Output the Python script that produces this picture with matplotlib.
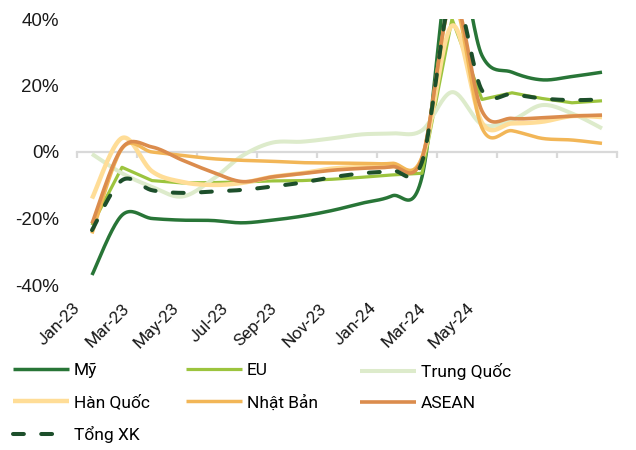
import numpy as np
import matplotlib
matplotlib.use("Agg")
import matplotlib.pyplot as plt

plt.rcParams['font.family'] = ['Roboto', 'DejaVu Sans']

months = ["Jan-23", "Feb-23", "Mar-23", "Apr-23", "May-23", "Jun-23",
          "Jul-23", "Aug-23", "Sep-23", "Oct-23", "Nov-23", "Dec-23",
          "Jan-24", "Feb-24", "Mar-24", "Apr-24", "May-24", "Jun-24"]

my = [-37, -19, -20, -20.5, -20.6, -21.3, -20.5, -19.3, -17.6, -15.4, -13.2, -7.5, 60, 29, 24, 21.7, 22.7, 24]
eu = [-22, -4.6, -8.6, -9.3, -9.2, -9.0, -8.7, -8.6, -8.2, -7.6, -6.9, -6.4, 40, 15.8, 17.8, 16.1, 14.8, 15.4]
trung_quoc = [-0.6, -6.4, -10.5, -13.4, -8.4, -1.2, 2.8, 3.1, 4.1, 5.3, 5.6, 6.5, 18, 8.3, 9.6, 14.1, 11.6, 7.1]
han_quoc = [-14, 4.2, -5.8, -9, -9.9, -9.3, -7.5, -6.4, -5, -4.5, -4.3, -2, 38, 8.8, 8.6, 9.1, 10.8, 10.5]
nhat_ban = [-24.5, 1.0, 0, -1, -2, -2.5, -2.8, -3.2, -3.3, -3.4, -3.4, -1.5, 45, 7.2, 6.4, 4.1, 3.6, 2.6]
asean = [-21.5, 1.2, 1.5, -2.4, -6, -8.9, -7.5, -6.5, -5.5, -4.9, -4.4, -2, 46, 12.3, 10.1, 10.3, 10.8, 11.1]
tong_xk = [-23.5, -8.5, -11.5, -12.3, -11.9, -11.4, -10.4, -9.2, -7.6, -6.4, -5.6, -3, 47, 18.5, 17.4, 16.1, 15.6, 15.8]

yticks = [-40, -20, 0, 20, 40]
label_every = 2


def smooth(xs, ys, n=24):
    """Bezier smoothing through every point (Catmull-Rom style tangents)."""
    p = np.column_stack([xs, ys]).astype(float)
    ext = np.vstack([p[0], p, p[-1]])
    out = []
    t = np.linspace(0, 1, n)[:, None]
    for i in range(len(p) - 1):
        p0, p1, p2, p3 = ext[i], ext[i + 1], ext[i + 2], ext[i + 3]
        c1 = p1 + (p2 - p0) / 6
        c2 = p2 - (p3 - p1) / 6
        seg = ((1 - t) ** 3) * p1 + 3 * ((1 - t) ** 2) * t * c1 + 3 * (1 - t) * t ** 2 * c2 + t ** 3 * p2
        out.append(seg if i == 0 else seg[1:])
    s = np.vstack(out)
    return s[:, 0], s[:, 1]


W, H = 636, 450
fig = plt.figure(figsize=(W / 100, H / 100), dpi=100)
ax = fig.add_axes([77 / W, 1 - 285 / H, 540 / W, 266 / H])

x = np.arange(len(months))
series = [
    ("Mỹ", my, dict(color="#287537", lw=2.5), True),
    ("EU", eu, dict(color="#9CC43E", lw=2.3), False),
    ("Trung Quốc", trung_quoc, dict(color="#DDEBCB", lw=2.9), True),
    ("Hàn Quốc", han_quoc, dict(color="#FFDD97", lw=3.2), True),
    ("Nhật Bản", nhat_ban, dict(color="#F2B657", lw=2.5), True),
    ("ASEAN", asean, dict(color="#DB8C4D", lw=2.6), True),
    ("Tổng XK", tong_xk, dict(color="#1D4F2B", lw=2.9, ls=(0, (2.7, 4.3)),
                              dash_capstyle="round"), True),
]

handles = {}
for name, vals, style, is_smooth in series:
    if is_smooth:
        sx, sy = smooth(x, vals)
    else:
        sx, sy = x, np.asarray(vals, float)
    ln, = ax.plot(sx, sy, label=name, solid_capstyle="butt", **style)
    handles[name] = ln

ax.set_xlim(-0.5, len(months) - 0.5)
ax.set_ylim(-40, 40)
ax.set_yticks(yticks)
ax.set_yticklabels([f"{v}%" for v in yticks], fontsize=13.5, color="#1a1a1a",
                   family=["Liberation Sans", "DejaVu Sans"])
ax.tick_params(axis="y", length=0, pad=13)

for s in ("left", "right", "top"):
    ax.spines[s].set_visible(False)
ax.spines["bottom"].set_position(("data", 0))
ax.spines["bottom"].set_color("#D9D9D9")
ax.spines["bottom"].set_linewidth(1.6)
ax.spines["bottom"].set_zorder(0.5)
ax.set_xticks(np.arange(-0.5, len(months), 2))
ax.set_xticklabels([])
ax.tick_params(axis="x", direction="out", length=4.5, width=1.6, color="#D9D9D9")

# Month labels on their own baseline below the plot
lab = fig.add_axes([78 / W, 1 - 300 / H, 49.25 * 8 / W, 0.0001])
lab.set_xlim(0, len(months) - 2)
lab.set_xticks(np.arange(0, len(months) - 1, label_every))
lab.set_xticklabels(months[::label_every][:9], rotation=45, ha="right", va="center",
                    rotation_mode="anchor", fontsize=12.5, color="#1a1a1a")
lab.tick_params(axis="x", length=0, pad=4)
lab.set_yticks([])
for s in lab.spines.values():
    s.set_visible(False)
lab.patch.set_visible(False)

# Legend laid out as three fixed columns
columns = [(13, ["Mỹ", "Hàn Quốc", "Tổng XK"]),
           (186, ["EU", "Nhật Bản"]),
           (360, ["Trung Quốc", "ASEAN"])]
for left_px, names in columns:
    fig.legend([handles[k] for k in names], names, loc="upper left",
               bbox_to_anchor=(left_px / W, 1 - 363 / H), ncol=1, frameon=False,
               fontsize=12.5, handlelength=3.25, handletextpad=0.27,
               labelspacing=0.92, borderpad=0, borderaxespad=0)

fig.savefig("out.png", dpi=100)
